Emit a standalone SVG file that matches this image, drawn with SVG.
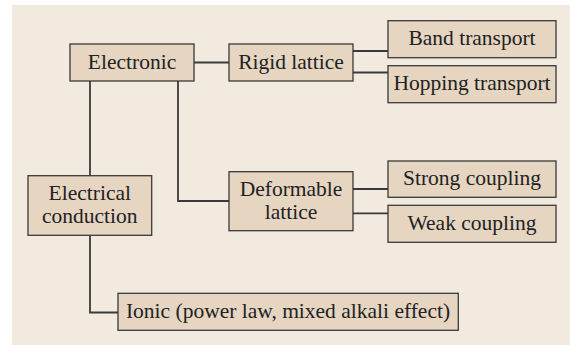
<svg xmlns="http://www.w3.org/2000/svg" width="570" height="345" viewBox="0 0 570 345">
<style>
.bg{fill:#f2eadf}
.box{fill:#e5d5c1;stroke:#3a3a3a;stroke-width:1.3}
.t{font-family:"Liberation Serif","Times New Roman",serif;font-size:21.5px;fill:#222;text-anchor:middle}
.c{fill:none;stroke:#3a3a3a;stroke-width:1.8}
</style>
<rect class="bg" x="12" y="5" width="558" height="340"/>
<g id="connectors">
<path class="c" d="M194,62.5H229"/>
<path class="c" d="M353,51H388"/>
<path class="c" d="M353,72.5H388"/>
<path class="c" d="M90,81V175.5"/>
<path class="c" d="M178,81V201H229"/>
<path class="c" d="M353,189H388"/>
<path class="c" d="M353,213.3H388"/>
<path class="c" d="M90,235V312.5H118"/>
</g>
<g id="electronic"><rect class="box" x="70" y="44" width="124" height="37"/><text class="t" x="132" y="68.5">Electronic</text></g>
<g id="rigid"><rect class="box" x="229" y="44" width="124" height="37"/><text class="t" x="291" y="68.5">Rigid lattice</text></g>
<g id="band"><rect class="box" x="388" y="20.7" width="168" height="37"/><text class="t" x="472" y="45.2">Band transport</text></g>
<g id="hopping"><rect class="box" x="388" y="65.7" width="168" height="37"/><text class="t" x="472" y="90.2">Hopping transport</text></g>
<g id="electrical"><rect class="box" x="28" y="175.7" width="123.7" height="59.6"/><text class="t" x="89.8" y="200">Electrical</text><text class="t" x="89.8" y="222.7">conduction</text></g>
<g id="deformable"><rect class="box" x="229" y="171.7" width="124" height="59"/><text class="t" x="291" y="196">Deformable</text><text class="t" x="291" y="218.5">lattice</text></g>
<g id="strong"><rect class="box" x="388" y="161" width="168" height="36.3"/><text class="t" x="472" y="185">Strong coupling</text></g>
<g id="weak"><rect class="box" x="388" y="205.3" width="168" height="37"/><text class="t" x="472" y="230">Weak coupling</text></g>
<g id="ionic"><rect class="box" x="118" y="293.3" width="340.3" height="37"/><text class="t" x="288" y="317.8">Ionic (power law, mixed alkali effect)</text></g>
</svg>
